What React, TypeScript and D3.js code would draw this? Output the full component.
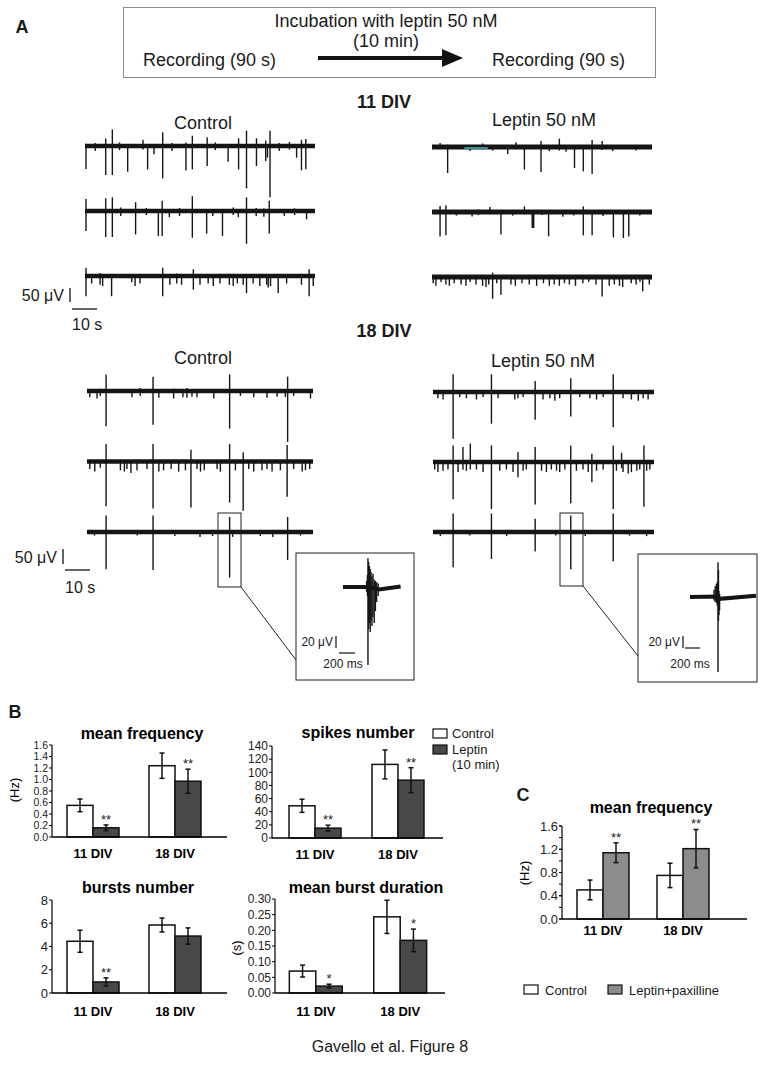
import React from 'react';
import * as d3 from 'd3';

const FONT = "'Liberation Sans', Arial, Helvetica, sans-serif";

// ---------------- Panel A: spike trains, [time (s), min (µV), max (µV)] ----------------
type Spike = [number, number, number];

const ctl11Row1: Spike[] = [[0.4,-85,5],[8.1,-108,25],[10.7,-108,60],[16.7,-95,0],[22.7,-10,20],[24.5,-86,0],[27,-28,0],[30.4,-121,49],[39.5,-90,10],[42,-86,36],[47.8,-73,30],[56,-57,0],[60.1,-86,26],[63.2,-159,55],[67.1,-73,26],[70.7,-54,17],[71.4,-41,0],[72.4,-193,55],[82.8,-41,0],[84.7,-90,20],[86.4,-86,23],[4,-15,8],[13.5,-12,10],[34,-15,8],[51,-12,10],[76,-15,8],[80,-10,12]];
const ctl11Row2: Spike[] = [[0.4,-73,42],[8.1,-96,45],[10.7,-96,49],[19.8,-86,30],[28.7,-92,0],[30.2,-92,36],[42,-99,53],[47.6,-83,0],[53.8,-92,0],[63.2,-122,49],[72.1,-83,36],[86.7,-28,0],[14,-15,10],[24,-12,8],[33,-20,0],[37,-15,8],[50,-15,0],[58,-12,10],[60,-20,0],[67,-15,8],[70,-18,6],[78,-15,0],[82,-12,6]];
const ctl11Row3: Spike[] = [[0.4,-74,28],[10.4,-74,0],[30.4,-74,28],[42.4,-49,22],[63.2,-62,0],[75.6,-62,0],[87.7,-74,22],[2.6,-25,0],[5.9,-30,8],[6.9,-35,0],[18.3,-20,0],[19.6,-35,0],[21.5,-25,0],[33.2,-30,0],[35.9,-25,6],[37.8,-30,0],[45,-30,0],[48.2,-25,0],[50.2,-35,0],[52.8,-25,0],[56.5,-30,0],[58,-35,0],[59.6,-25,0],[61.9,-30,0],[65.8,-25,0],[68.4,-35,0],[71.1,-30,0],[71.7,-40,0],[72.6,-35,0],[78.9,-25,0],[84.7,-30,0],[89.3,-35,0]];

const lep11Row1: Spike[] = [[6.4,-96,5],[31,-23,0],[37.8,-83,0],[44.6,-92,19],[52.1,-10,28],[58.3,-77,0],[61.9,-90,0],[65.5,-100,23],[69.6,-8,19],[3.3,0,12],[15.6,-12,0],[20.7,-5,10],[24.8,-10,0],[34.4,-5,14],[48,-12,0],[54.8,-14,0],[73.9,-12,0],[83.5,-10,0]];
const lep11Row2: Spike[] = [[3.3,-90,19],[5.7,-86,22],[16.4,-13,0],[23.7,-5,15],[28.2,-83,0],[37.8,-5,18],[41.0,-58,0],[41.3,-58,0],[41.6,-58,0],[47.7,-90,0],[53.5,-14,0],[61.9,-86,18],[65.5,-86,0],[74.2,-94,0],[78.3,-96,0],[80.5,-90,0],[10,-10,0],[19,-8,6],[33,-10,0],[45,-8,0],[58,-10,0],[70,-12,0],[85,-10,0]];
const lep11Row3: Spike[] = [[24.8,-80,13],[28.2,-64,0],[69.6,-71,0],[86.2,-51,0],[0.5,-20,0],[1.6,-30,0],[3.7,-15,0],[5.7,-25,0],[7.1,-30,0],[9.1,-20,0],[11.9,-25,0],[13.9,-30,0],[15.6,-15,0],[18,-25,0],[20.7,-30,0],[22.1,-35,0],[23.2,-25,0],[26.5,-20,0],[32.3,-25,0],[34.1,-30,0],[36.8,-20,0],[39.8,-25,0],[42.8,-30,0],[45.6,-20,0],[48,-30,0],[50,-25,0],[52.1,-30,0],[54.2,-20,0],[56.2,-25,0],[58.7,-30,0],[61.7,-20,0],[64.1,-15,0],[67.1,-25,0],[72.5,-30,0],[74.6,-25,0],[76.7,-30,0],[78,-35,0],[81.5,-20,0],[83.5,-25,0],[85.1,-15,0],[88.9,-25,0]];

const ctl18Row1: Spike[] = [[7.6,-132,60],[26.3,-126,51],[56.8,-141,60],[79.9,-192,51],[1.1,-20,0],[4,-25,0],[5.3,-15,5],[17.9,-20,0],[21.2,-15,8],[28.6,-22,0],[34.5,-25,5],[38.2,-20,0],[39.8,-22,8],[41.8,-18,0],[43.8,-20,0],[50.5,-25,0],[61.1,-15,0],[66.4,-20,0],[71.7,-22,0],[75.7,-18,0],[79,-20,0],[82.3,-15,0],[89,-25,0]];
const ctl18Row2: Spike[] = [[7.6,-168,63],[26.3,-177,63],[41.4,-173,41],[56.8,-154,63],[62.2,-186,32],[79.7,-132,60],[1.1,-25,0],[3.1,-35,0],[5.3,-20,0],[13.3,-30,0],[14.9,-35,0],[15.9,-25,0],[17.5,-40,0],[19.9,-30,0],[23.9,-25,0],[28.6,-35,0],[30.5,-30,0],[33.5,-25,0],[36.5,-35,0],[39.2,-30,0],[43.8,-25,0],[45.2,-35,0],[46.7,-30,0],[51.8,-25,0],[53.1,-35,0],[59.1,-30,0],[64.4,-25,0],[66.4,-35,0],[69.7,-30,0],[71.7,-25,0],[73.7,-35,0],[77,-30,0],[82.3,-25,0],[85.7,-35,0],[87,-30,0],[88.7,-25,0]];
const ctl18Row3: Spike[] = [[7.6,-139,60],[26.3,-142,60],[56.8,-171,54],[79.9,-104,54],[45,-15,0],[50,-12,0],[58,-15,0],[69,-12,0],[74,-15,0],[3,-10,0],[20,-10,0],[35,-12,0],[85,-10,0]];

const lep18Row1: Spike[] = [[8.2,-176,64],[23.8,-118,64],[41.6,-103,38],[56.1,-90,49],[73.4,-132,64],[2,-20,0],[4.1,-25,0],[10.9,-15,0],[13.6,-20,0],[17.7,-25,0],[20.4,-15,0],[26.5,-20,0],[33.3,-25,0],[34.6,-20,0],[36.7,-15,0],[44.8,-25,0],[47.6,-20,0],[49.6,-30,0],[51.6,-20,0],[59.8,-15,0],[63.9,-20,0],[66.6,-25,0],[69.3,-15,0],[77.4,-20,0],[80.8,-25,0],[83.6,-30,0],[85.6,-20,0],[87.6,-25,0]];
const lep18Row2: Spike[] = [[8.2,-139,60],[12.2,-26,54],[15.2,-25,67],[23.8,-177,60],[34.6,-55,35],[41.6,-160,54],[56.1,-155,60],[64.7,-74,28],[73.4,-177,60],[76.8,-20,32],[85.9,-168,60],[0.7,-25,0],[2,-35,0],[4.1,-30,0],[6.1,-25,0],[10.2,-35,0],[13.6,-30,0],[17.7,-25,0],[20.4,-35,0],[27.2,-30,0],[29.9,-25,0],[32.6,-35,0],[36.7,-30,0],[38,-25,0],[44.2,-30,0],[46.2,-35,0],[48.2,-25,0],[50.3,-30,0],[51.6,-35,0],[53.7,-25,0],[58.4,-30,0],[61.1,-25,0],[63.2,-35,0],[66.6,-30,0],[69.3,-25,0],[74.7,-30,0],[77.4,-35,0],[79.5,-40,0],[80.8,-35,0],[83,-30,0],[84.2,-25,0],[87,-30,0],[88.3,-25,0]];
const lep18Row3: Spike[] = [[8.2,-132,67],[23.8,-100,67],[41.6,-71,47],[56.1,-139,60],[73.4,-109,67],[3,-12,0],[15,-10,0],[30,-12,0],[50,-10,0],[62,-12,0],[80,-10,0],[87,-12,0]];

// highlighted (cyan) segment on Leptin 11 DIV row 1, seconds
const cyanSegment = [13.2, 22.8];

// ---------------- Insets: [time (ms), min (µV), max (µV)] ----------------
const insetCtlSpikes: Spike[] = [[295,-8,10],[305,-15,20],[312,-130,48],[320,-70,42],[330,-60,35],[340,-75,30],[350,-55,25],[362,-65,18],[375,-50,22],[390,-60,12],[405,-40,10],[420,-25,8],[440,-15,6]];
const insetCtlBaseline: [number, number][] = [[0,0],[300,0],[450,-4],[720,1]];
const insetLepSpikes: Spike[] = [[300,-6,12],[315,-8,18],[330,-10,22],[342,-15,25],[350,-125,58],[356,-40,45],[362,-30,10],[370,-22,5]];
const insetLepBaseline: [number, number][] = [[0,0],[345,1],[370,-3],[825,2]];

// ---------------- Panel B / C data ----------------
const groups = ['11 DIV', '18 DIV'];
const seriesB = ['Control', 'Leptin'];
const meanFreq = [[0.55, 0.16], [1.24, 0.97]];
const meanFreqErr = [[0.11, 0.05], [0.22, 0.21]];
const meanFreqStars = [['', '**'], ['', '**']];
const spikesNum = [[49, 15], [112, 88]];
const spikesNumErr = [[10, 4.5], [22, 19]];
const spikesNumStars = [['', '**'], ['', '**']];
const burstsNum = [[4.45, 0.95], [5.85, 4.9]];
const burstsNumErr = [[0.95, 0.35], [0.6, 0.7]];
const burstsNumStars = [['', '**'], ['', '']];
const burstDur = [[0.07, 0.022], [0.243, 0.168]];
const burstDurErr = [[0.019, 0.006], [0.053, 0.036]];
const burstDurStars = [['', '*'], ['', '*']];
const paxFreq = [[0.5, 1.14], [0.75, 1.21]];
const paxFreqErr = [[0.17, 0.17], [0.21, 0.33]];
const paxFreqStars = [['', '**'], ['', '**']];

const fillsB = ['#ffffff', '#484848'];
const fillsC = ['#ffffff', '#8c8c8c'];

// ---------------- Components ----------------
function TraceSet({ x0, x1, rows, y0, y1, band }: { x0: number; x1: number; rows: Spike[][]; y0: number; y1: number; band: number }) {
  const xs = d3.scaleLinear().domain([0, 90]).range([x0, x1]);
  const rowY = d3.scalePoint<number>().domain(rows.map((_, i) => i)).range([y0, y1]);
  const amp = d3.scaleLinear().domain([0, 50]).range([0, -13]);
  return (
    <g>
      {rows.map((row, i) => {
        const by = rowY(i)!;
        return (
          <g key={i}>
            <line x1={x0} x2={x1} y1={by} y2={by} stroke="#151515" strokeWidth={band} />
            {row.map(([t, lo, hi], j) => (
              <line key={j} x1={xs(t)} x2={xs(t)} y1={by + amp(hi) - 1} y2={by + amp(lo) + 1} stroke="#151515" strokeWidth={1.4} />
            ))}
          </g>
        );
      })}
    </g>
  );
}

function Inset({ x0, x1, by, dur, spikes, base }: { x0: number; x1: number; by: number; dur: number; spikes: Spike[]; base: [number, number][] }) {
  const xs = d3.scaleLinear().domain([0, dur]).range([x0, x1]);
  const amp = d3.scaleLinear().domain([0, 20]).range([0, -12]);
  const line = d3.line<[number, number]>().x(d => xs(d[0])).y(d => by + amp(d[1]));
  return (
    <g>
      <path d={line(base) || ''} fill="none" stroke="#151515" strokeWidth={4} />
      {spikes.map(([t, lo, hi], j) => (
        <line key={j} x1={xs(t)} x2={xs(t)} y1={by + amp(hi)} y2={by + amp(lo)} stroke="#151515" strokeWidth={1.4} />
      ))}
    </g>
  );
}

interface BarProps {
  left: number; axisEnd: number; bandEnd: number; top: number; bottom: number;
  max: number; step: number; minor?: number; fmt: string;
  values: number[][]; errors: number[][]; stars: string[][]; fills: string[];
  pi: number; po: number;
  title: string; titleX: number; titleY: number;
  yLabel?: string; yLabelX?: number; yLabelY?: number;
  groupLabelDy: number; tickFont: number;
}

function BarChart(p: BarProps) {
  const y = d3.scaleLinear().domain([0, p.max]).range([p.bottom, p.top]);
  const gx = d3.scaleBand<string>().domain(groups).range([p.left, p.bandEnd]).paddingInner(p.pi).paddingOuter(p.po);
  const sx = d3.scaleBand<string>().domain(seriesB).range([0, gx.bandwidth()]);
  const ticks = d3.range(0, p.max + p.step / 2, p.step);
  const minorTicks = p.minor ? d3.range(0, p.max + p.minor / 2, p.minor) : [];
  const f = d3.format(p.fmt);
  return (
    <g fontFamily={FONT}>
      <text x={p.titleX} y={p.titleY} dy="0.35em" textAnchor="middle" fontSize={16} fontWeight="bold">{p.title}</text>
      {p.yLabel && (
        <text transform={`translate(${p.yLabelX},${p.yLabelY}) rotate(-90)`} textAnchor="middle" dy="0.35em" fontSize={13}>{p.yLabel}</text>
      )}
      {minorTicks.map((t, i) => (
        <line key={'m' + i} x1={p.left - 3} x2={p.left} y1={y(t)} y2={y(t)} stroke="#000" strokeWidth={1} />
      ))}
      {ticks.map((t, i) => (
        <g key={i}>
          <line x1={p.left - 3} x2={p.left} y1={y(t)} y2={y(t)} stroke="#000" strokeWidth={1} />
          <text x={p.left - 4} y={y(t)} dy="0.36em" textAnchor="end" fontSize={p.tickFont} fill="#222">{f(t)}</text>
        </g>
      ))}
      {groups.map((g, gi) => (
        <g key={g}>
          {seriesB.map((s, si) => {
            const v = p.values[gi][si];
            const e = p.errors[gi][si];
            const bx = gx(g)! + sx(s)!;
            const cx = bx + sx.bandwidth() / 2;
            return (
              <g key={s}>
                <rect x={bx} y={y(v)} width={sx.bandwidth()} height={p.bottom - y(v)} fill={p.fills[si]} stroke="#111" strokeWidth={1.5} />
                <line x1={cx} x2={cx} y1={y(v + e)} y2={y(v - e)} stroke="#111" strokeWidth={1.5} />
                <line x1={cx - 2.5} x2={cx + 2.5} y1={y(v + e)} y2={y(v + e)} stroke="#111" strokeWidth={1.5} />
                <line x1={cx - 2.5} x2={cx + 2.5} y1={y(v - e)} y2={y(v - e)} stroke="#111" strokeWidth={1.5} />
                {p.stars[gi][si] && (
                  <text x={cx} y={y(v + e) - 1} textAnchor="middle" fontSize={13} fill="#222">{p.stars[gi][si]}</text>
                )}
              </g>
            );
          })}
          <text x={gx(g)! + gx.bandwidth() / 2} y={p.bottom + p.groupLabelDy} textAnchor="middle" fontSize={13} fontWeight="bold">{g}</text>
        </g>
      ))}
      <line x1={p.left} x2={p.left} y1={p.top} y2={p.bottom} stroke="#000" strokeWidth={1.2} />
      <line x1={p.left} x2={p.axisEnd} y1={p.bottom} y2={p.bottom} stroke="#000" strokeWidth={1.5} />
    </g>
  );
}

export default function App() {
  const t = { fontFamily: FONT, fill: '#1a1a1a' } as const;
  return (
    <svg width={766} height={1065} viewBox="0 0 766 1065" style={{ position: 'absolute', left: 0, top: 0, background: '#fff' }}>
      <rect x={0} y={0} width={766} height={1065} fill="#fff" />
      {/* ---------- Panel A header ---------- */}
      <text x={22} y={27} dy="0.35em" textAnchor="middle" fontSize={18} fontWeight="bold" {...t}>A</text>
      <rect x={123.5} y={7.5} width={532} height={70} fill="none" stroke="#8a8a8a" strokeWidth={1} />
      <text x={386} y={21} dy="0.35em" textAnchor="middle" fontSize={18} {...t}>Incubation with leptin 50 nM</text>
      <text x={386} y={41} dy="0.35em" textAnchor="middle" fontSize={18} {...t}>(10 min)</text>
      <text x={143} y={60} dy="0.35em" fontSize={18} {...t}>Recording (90 s)</text>
      <text x={492} y={60} dy="0.35em" fontSize={18} {...t}>Recording (90 s)</text>
      <line x1={318} x2={444} y1={58} y2={58} stroke="#111" strokeWidth={4} />
      <path d="M442,49 L463,58 L442,67 Z" fill="#111" />

      <text x={384} y={102} dy="0.35em" textAnchor="middle" fontSize={18} fontWeight="bold" {...t}>11 DIV</text>
      <text x={203} y={123} dy="0.35em" textAnchor="middle" fontSize={18} {...t}>Control</text>
      <text x={544} y={120} dy="0.35em" textAnchor="middle" fontSize={18} {...t}>Leptin 50 nM</text>

      <TraceSet x0={85} x1={315} rows={[ctl11Row1, ctl11Row2, ctl11Row3]} y0={146} y1={276} band={4.5} />
      <TraceSet x0={432} x1={652} rows={[lep11Row1, lep11Row2, lep11Row3]} y0={147} y1={277} band={5} />
      {(() => {
        const xs = d3.scaleLinear().domain([0, 90]).range([432, 652]);
        return <line x1={xs(cyanSegment[0])} x2={xs(cyanSegment[1])} y1={148} y2={148} stroke="#3fb8b8" strokeWidth={1.5} />;
      })()}

      {/* 11 DIV scale bar */}
      <text x={64} y={295} dy="0.35em" textAnchor="end" fontSize={16} {...t}>50 μV</text>
      <line x1={70} x2={70} y1={288} y2={302} stroke="#111" strokeWidth={1.3} />
      <line x1={72} x2={97} y1={309} y2={309} stroke="#111" strokeWidth={1.3} />
      <text x={72} y={324} dy="0.35em" fontSize={16} {...t}>10 s</text>

      {/* 18 DIV */}
      <text x={384} y={331} dy="0.35em" textAnchor="middle" fontSize={18} fontWeight="bold" {...t}>18 DIV</text>
      <text x={203} y={358} dy="0.35em" textAnchor="middle" fontSize={18} {...t}>Control</text>
      <text x={543} y={361} dy="0.35em" textAnchor="middle" fontSize={18} {...t}>Leptin 50 nM</text>

      <TraceSet x0={87} x1={313} rows={[ctl18Row1, ctl18Row2, ctl18Row3]} y0={391} y1={532} band={4.5} />
      <TraceSet x0={433} x1={654} rows={[lep18Row1, lep18Row2, lep18Row3]} y0={392} y1={532} band={4.5} />

      <text x={57} y={557} dy="0.35em" textAnchor="end" fontSize={16} {...t}>50 μV</text>
      <line x1={63} x2={63} y1={549} y2={564} stroke="#111" strokeWidth={1.3} />
      <line x1={65} x2={90} y1={570} y2={570} stroke="#111" strokeWidth={1.3} />
      <text x={65} y={587} dy="0.35em" fontSize={16} {...t}>10 s</text>

      {/* zoom boxes & insets */}
      <rect x={218} y={513} width={23} height={74} fill="none" stroke="#222" strokeWidth={1} />
      <line x1={241} y1={587} x2={296} y2={660} stroke="#222" strokeWidth={1} />
      <rect x={296} y={553} width={118} height={127} fill="#fff" stroke="#222" strokeWidth={1} />
      <Inset x0={343} x1={400.6} by={587} dur={720} spikes={insetCtlSpikes} base={insetCtlBaseline} />
      <text x={333} y={642} dy="0.35em" textAnchor="end" fontSize={12} {...t}>20 μV</text>
      <line x1={336} x2={336} y1={636} y2={648} stroke="#111" strokeWidth={1.2} />
      <line x1={339} x2={355} y1={653} y2={653} stroke="#111" strokeWidth={1.2} />
      <text x={343} y={664} dy="0.35em" textAnchor="middle" fontSize={12} {...t}>200 ms</text>

      <rect x={560} y={513} width={23} height={73} fill="none" stroke="#222" strokeWidth={1} />
      <line x1={583} y1={586} x2={638} y2={656} stroke="#222" strokeWidth={1} />
      <rect x={638} y={554} width={119} height={128} fill="#fff" stroke="#222" strokeWidth={1} />
      <Inset x0={690} x1={756} by={597} dur={825} spikes={insetLepSpikes} base={insetLepBaseline} />
      <text x={680} y={642} dy="0.35em" textAnchor="end" fontSize={12} {...t}>20 μV</text>
      <line x1={683} x2={683} y1={636} y2={648} stroke="#111" strokeWidth={1.2} />
      <line x1={685} x2={700} y1={648} y2={648} stroke="#111" strokeWidth={1.2} />
      <text x={690} y={664} dy="0.35em" textAnchor="middle" fontSize={12} {...t}>200 ms</text>

      {/* ---------- Panel B ---------- */}
      <text x={15} y={712} dy="0.35em" textAnchor="middle" fontSize={18} fontWeight="bold" {...t}>B</text>
      <BarChart left={52} axisEnd={227} bandEnd={216} top={745} bottom={837} max={1.6} step={0.2} fmt=".1f" tickFont={10.5}
        values={meanFreq} errors={meanFreqErr} stars={meanFreqStars} fills={fillsB} pi={0.366} po={0.183}
        title="mean frequency" titleX={142} titleY={733} yLabel="(Hz)" yLabelX={14} yLabelY={790} groupLabelDy={21} />
      <BarChart left={272} axisEnd={443} bandEnd={441} top={746} bottom={838} max={140} step={20} fmt="d" tickFont={12}
        values={spikesNum} errors={spikesNumErr} stars={spikesNumStars} fills={fillsB} pi={0.373} po={0.205}
        title="spikes number" titleX={358} titleY={732} groupLabelDy={21} />
      <BarChart left={52} axisEnd={227} bandEnd={216} top={900} bottom={993} max={8} step={2} fmt="d" tickFont={13}
        values={burstsNum} errors={burstsNumErr} stars={burstsNumStars} fills={fillsB} pi={0.366} po={0.183}
        title="bursts number" titleX={138} titleY={887} groupLabelDy={23} />
      <BarChart left={275} axisEnd={445} bandEnd={441} top={899} bottom={993} max={0.3} step={0.05} fmt=".2f" tickFont={12}
        values={burstDur} errors={burstDurErr} stars={burstDurStars} fills={fillsB} pi={0.373} po={0.17}
        title="mean burst duration" titleX={366} titleY={887} yLabel="(s)" yLabelX={236} yLabelY={948} groupLabelDy={23} />

      {/* legend B */}
      <rect x={433} y={729} width={14} height={9} fill={fillsB[0]} stroke="#111" strokeWidth={1.2} />
      <rect x={433} y={745} width={14} height={9} fill={fillsB[1]} stroke="#111" strokeWidth={1.2} />
      <text x={452} y={733} dy="0.35em" fontSize={13} {...t}>Control</text>
      <text x={452} y={749} dy="0.35em" fontSize={13} {...t}>Leptin</text>
      <text x={452} y={764} dy="0.35em" fontSize={13} {...t}>(10 min)</text>

      {/* ---------- Panel C ---------- */}
      <text x={523} y={795} dy="0.35em" textAnchor="middle" fontSize={18} fontWeight="bold" {...t}>C</text>
      <BarChart left={562} axisEnd={747} bandEnd={724} top={826} bottom={919} max={1.6} step={0.4} minor={0.2} fmt=".1f" tickFont={13}
        values={paxFreq} errors={paxFreqErr} stars={paxFreqStars} fills={fillsC} pi={0.35} po={0.1875}
        title="mean frequency" titleX={651} titleY={807} yLabel="(Hz)" yLabelX={524} yLabelY={873} groupLabelDy={16} />
      <rect x={524} y={985} width={14} height={9} fill={fillsC[0]} stroke="#111" strokeWidth={1.2} />
      <text x={545} y={990} dy="0.35em" fontSize={13} {...t}>Control</text>
      <rect x={608} y={985} width={14} height={9} fill={fillsC[1]} stroke="#111" strokeWidth={1.2} />
      <text x={629} y={990} dy="0.35em" fontSize={13} {...t}>Leptin+paxilline</text>

      <text x={390} y={1046} dy="0.35em" textAnchor="middle" fontSize={16} {...t}>Gavello et al. Figure 8</text>
    </svg>
  );
}
